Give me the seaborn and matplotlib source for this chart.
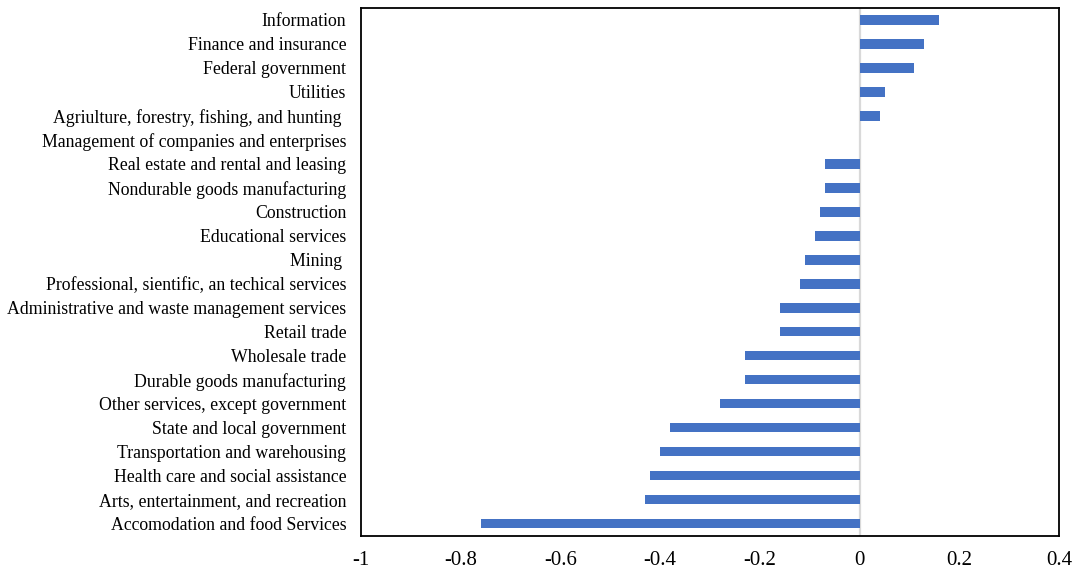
import matplotlib
matplotlib.use("Agg")
import matplotlib.pyplot as plt
import seaborn as sns
import pandas as pd

# Industries, listed top to bottom
industries = [
    "Information",
    "Finance and insurance",
    "Federal government",
    "Utilities",
    "Agriulture, forestry, fishing, and hunting ",
    "Management of companies and enterprises",
    "Real estate and rental and leasing",
    "Nondurable goods manufacturing",
    "Construction",
    "Educational services",
    "Mining ",
    "Professional, sientific, an techical services",
    "Administrative and waste management services",
    "Retail trade",
    "Wholesale trade",
    "Durable goods manufacturing",
    "Other services, except government",
    "State and local government",
    "Transportation and warehousing",
    "Health care and social assistance",
    "Arts, entertainment, and recreation",
    "Accomodation and food Services",
]

values = [
    0.16, 0.13, 0.11, 0.05, 0.04, 0.0,
    -0.07, -0.07, -0.08, -0.09, -0.11, -0.12,
    -0.16, -0.16, -0.23, -0.23, -0.28, -0.38,
    -0.40, -0.42, -0.43, -0.76,
]

x_ticks = [-1, -0.8, -0.6, -0.4, -0.2, 0, 0.2, 0.4]
x_tick_labels = ["-1", "-0.8", "-0.6", "-0.4", "-0.2", "0", "0.2", "0.4"]

df = pd.DataFrame({"industry": industries, "value": values})

sns.set_theme(style="white")
plt.rcParams["font.family"] = ["Liberation Serif", "DejaVu Serif"]

fig = plt.figure(figsize=(10.73, 5.70), dpi=100)
ax = fig.add_axes([0.3364, 0.0605, 0.6506, 0.9255])

sns.barplot(
    data=df, x="value", y="industry", order=industries,
    orient="h", color="#4472C4", saturation=1, width=0.40,
    linewidth=0, ax=ax,
)

# Zero reference line
ax.axvline(0, color="#D9D9D9", linewidth=1.6, zorder=0.5)

ax.set_xlim(-1, 0.4)
ax.set_ylim(len(industries) - 0.5, -0.5)
ax.set_xticks(x_ticks)
ax.set_xticklabels(x_tick_labels)
ax.set_xlabel("")
ax.set_ylabel("")

ax.tick_params(axis="x", length=0, pad=11, labelsize=15, colors="black")
ax.tick_params(axis="y", length=0, pad=10.5, labelsize=12.8, colors="black")

for side in ["top", "bottom", "left", "right"]:
    ax.spines[side].set_visible(True)
    ax.spines[side].set_color("black")
    ax.spines[side].set_linewidth(1.3)

fig.savefig("out.png", dpi=100, facecolor="white")
